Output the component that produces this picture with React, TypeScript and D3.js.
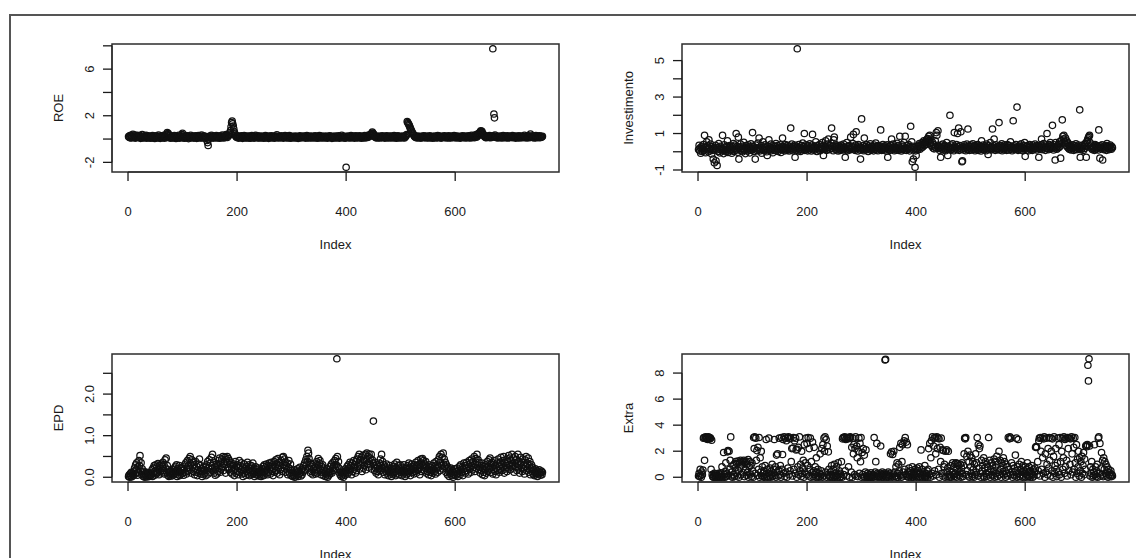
import React from 'react';
import * as d3 from 'd3';

// values, index order 1..760
const roe = [
  0.21,0.15,0.28,0.12,0.33,0.09,0.18,0.25,0.41,0.14,0.22,0.35,0.08,0.19,0.27,0.11,0.31,0.16,0.24,0.13,
  0.17,0.29,0.06,0.21,0.14,0.38,0.12,0.23,0.09,0.19,0.26,0.15,0.32,0.08,0.2,0.13,0.27,0.1,0.18,0.24,
  0.14,0.07,0.22,0.16,0.3,0.11,0.19,0.25,0.05,0.17,0.13,0.28,0.09,0.21,0.15,0.34,0.12,0.18,0.06,0.23,
  0.16,0.27,0.1,0.2,0.14,0.31,0.08,0.19,0.24,0.12,0.42,0.55,0.36,0.48,0.29,0.13,0.2,0.07,0.18,0.25,
  0.11,0.17,0.23,0.09,0.3,0.15,0.21,0.05,0.26,0.13,0.19,0.1,0.33,0.16,0.08,0.22,0.14,0.28,0.38,0.5,
  0.12,0.18,0.07,0.24,0.15,0.29,0.1,0.2,0.13,0.26,0.04,0.17,0.22,0.09,0.31,0.14,0.19,0.11,0.25,0.16,
  0.08,0.21,0.13,0.27,0.17,0.06,0.23,0.12,0.3,0.15,0.19,0.1,0.24,0.14,0.35,0.09,0.2,0.16,0.28,0.11,
  0.18,0.05,0.22,0.13,-0.12,-0.3,-0.55,0.02,0.15,0.25,0.1,0.19,0.33,0.14,0.21,0.08,0.26,0.17,0.12,0.23,
  0.15,0.3,0.09,0.2,0.13,0.24,0.18,0.07,0.28,0.16,0.11,0.22,0.34,0.14,0.19,0.1,0.25,0.17,0.29,0.38,
  0.21,0.14,0.3,0.26,0.42,0.35,0.55,0.72,1.05,1.42,1.55,1.3,1.12,0.85,0.6,0.45,0.31,0.22,0.16,0.27,
  0.12,0.19,0.08,0.24,0.15,0.21,0.11,0.28,0.17,0.06,0.23,0.13,0.3,0.18,0.1,0.2,0.14,0.26,0.09,0.22,
  0.16,0.12,0.25,0.07,0.19,0.14,0.29,0.11,0.21,0.17,0.08,0.24,0.13,0.32,0.15,0.2,0.1,0.27,0.18,0.12,
  0.23,0.09,0.18,0.14,0.26,0.11,0.2,0.16,0.07,0.22,0.13,0.3,0.17,0.1,0.24,0.15,0.19,0.06,0.25,0.13,
  0.2,0.15,0.28,0.1,0.17,0.23,0.12,0.19,0.08,0.26,0.14,0.21,0.36,0.11,0.18,0.24,0.09,0.16,0.22,0.13,
  0.27,0.12,0.19,0.15,0.08,0.23,0.17,0.3,0.11,0.2,0.14,0.25,0.1,0.18,0.13,0.29,0.16,0.07,0.21,0.15,
  0.11,0.24,0.18,0.13,0.2,0.09,0.26,0.15,0.12,0.22,0.17,0.06,0.19,0.14,0.28,0.1,0.21,0.16,0.13,0.23,
  0.18,0.11,0.25,0.14,0.2,0.08,0.17,0.29,0.12,0.22,0.15,0.1,0.19,0.26,0.13,0.21,0.09,0.16,0.24,0.12,
  0.2,0.15,0.27,0.1,0.18,0.13,0.23,0.07,0.19,0.16,0.3,0.11,0.21,0.14,0.25,0.09,0.17,0.22,0.12,0.19,
  0.14,0.26,0.1,0.2,0.16,0.08,0.23,0.13,0.18,0.28,0.11,0.21,0.15,0.06,0.24,0.17,0.12,0.2,0.09,0.25,
  0.16,0.13,0.22,0.1,0.19,0.27,0.14,0.08,0.21,0.17,0.12,0.33,0.15,0.2,0.11,0.24,0.18,0.07,0.22,-2.42,
  0.13,0.19,0.26,0.11,0.17,0.22,0.09,0.15,0.3,0.14,0.2,0.12,0.25,0.17,0.08,0.21,0.16,0.28,0.1,0.19,
  0.14,0.23,0.11,0.18,0.27,0.13,0.2,0.07,0.16,0.24,0.12,0.19,0.15,0.29,0.1,0.21,0.17,0.25,0.13,0.31,
  0.18,0.22,0.35,0.27,0.41,0.33,0.48,0.6,0.52,0.44,0.36,0.25,0.19,0.14,0.22,0.1,0.17,0.26,0.12,0.2,
  0.15,0.09,0.23,0.18,0.13,0.28,0.11,0.2,0.16,0.24,0.08,0.19,0.14,0.27,0.12,0.21,0.17,0.1,0.25,0.15,
  0.2,0.13,0.26,0.09,0.18,0.22,0.14,0.3,0.11,0.19,0.16,0.07,0.23,0.15,0.28,0.12,0.2,0.17,0.1,0.24,
  0.14,0.21,0.18,0.11,0.26,0.16,0.09,0.23,0.19,0.3,0.38,1.5,1.42,1.33,1.25,1.15,1.02,0.9,0.8,0.68,
  0.58,0.5,0.42,0.34,0.27,0.2,0.15,0.23,0.12,0.18,0.26,0.1,0.2,0.16,0.13,0.24,0.08,0.19,0.15,0.22,
  0.11,0.28,0.17,0.13,0.2,0.25,0.09,0.16,0.22,0.14,0.19,0.1,0.27,0.15,0.21,0.12,0.18,0.24,0.07,0.2,
  0.16,0.13,0.25,0.19,0.1,0.22,0.15,0.3,0.12,0.18,0.26,0.14,0.2,0.08,0.23,0.17,0.11,0.21,0.16,0.28,
  0.13,0.19,0.24,0.1,0.17,0.22,0.14,0.27,0.09,0.2,0.15,0.12,0.25,0.18,0.11,0.21,0.16,0.29,0.13,0.19,
  0.23,0.1,0.17,0.26,0.14,0.2,0.12,0.18,0.08,0.24,0.15,0.21,0.11,0.28,0.16,0.13,0.22,0.19,0.09,0.25,
  0.14,0.2,0.17,0.12,0.27,0.15,0.23,0.1,0.19,0.31,0.13,0.22,0.18,0.26,0.11,0.35,0.2,0.28,0.16,0.4,
  0.25,0.33,0.46,0.38,0.55,0.62,0.7,0.58,0.66,0.5,0.44,0.36,0.29,0.21,0.15,0.26,0.12,0.19,0.24,0.17,
  0.22,0.14,0.3,0.18,0.11,0.25,0.2,0.16,7.75,0.28,2.15,1.82,0.35,0.19,0.13,0.24,0.17,0.1,0.22,0.15,
  0.2,0.26,0.13,0.18,0.09,0.23,0.16,0.3,0.12,0.21,0.17,0.25,0.11,0.19,0.14,0.28,0.1,0.22,0.18,0.15,
  0.24,0.13,0.2,0.16,0.29,0.11,0.18,0.23,0.14,0.21,0.08,0.26,0.17,0.12,0.2,0.15,0.27,0.1,0.19,0.22,
  0.14,0.18,0.25,0.11,0.2,0.16,0.31,0.13,0.22,0.17,0.09,0.24,0.15,0.28,0.19,0.12,0.21,0.42,0.26,0.16,
  0.2,0.13,0.27,0.18,0.1,0.23,0.15,0.3,0.12,0.19,0.25,0.16,0.21,0.11,0.28,0.17,0.14,0.22,0.18,0.24,
];

const investimento = [
  0.12,0.35,0.05,0.22,-0.08,0.18,0.3,0.02,0.15,0.4,0.08,0.9,0.25,-0.05,0.2,0.55,0.1,0.32,0.0,0.65,
  0.18,0.05,0.42,0.12,-0.12,0.28,0.08,-0.4,0.2,-0.6,0.15,0.35,-0.5,0.1,-0.75,0.25,0.02,0.45,0.14,-0.06,
  0.3,0.1,0.2,0.05,0.9,0.16,-0.1,0.38,0.08,0.22,0.0,0.3,0.12,0.6,-0.04,0.2,0.1,0.34,0.06,0.25,
  0.14,-0.08,0.28,0.1,0.45,0.02,0.2,0.36,0.08,1.0,0.16,0.3,-0.02,0.8,-0.4,0.22,0.1,0.42,0.05,0.18,
  0.3,0.0,0.15,0.52,0.08,0.24,-0.1,0.34,0.12,0.2,0.04,0.38,0.1,0.26,-0.06,0.18,0.44,0.08,0.3,1.05,
  0.14,0.28,0.02,0.2,-0.4,0.36,0.1,0.22,0.06,0.48,0.15,0.75,0.04,0.25,0.12,0.34,-0.08,0.2,0.55,0.1,
  0.26,0.05,0.38,0.14,0.2,0.0,-0.2,0.3,0.1,0.65,0.16,0.24,0.04,0.42,0.12,0.2,-0.05,0.32,0.08,0.18,
  0.28,0.1,0.45,0.06,0.2,0.34,0.02,0.16,0.25,0.12,0.38,-0.04,0.22,0.1,0.75,0.3,0.14,0.2,0.05,0.4,
  0.18,0.26,0.08,0.35,0.12,0.22,0.04,0.3,0.16,1.3,0.1,0.42,0.2,0.06,0.28,0.14,0.36,-0.3,0.22,0.1,
  0.3,5.65,0.18,0.06,0.4,0.12,0.25,0.02,0.2,0.34,0.1,0.48,0.16,0.28,1.0,0.08,0.22,0.38,0.14,0.26,
  0.05,0.32,0.18,0.1,0.44,0.2,0.26,0.04,0.36,0.95,0.15,0.22,0.08,0.3,0.12,0.55,0.2,0.02,0.34,0.16,
  0.24,0.1,0.4,0.06,0.18,0.3,0.14,0.5,0.22,-0.2,0.35,0.12,0.28,0.6,0.2,0.08,0.42,0.16,0.7,0.26,
  0.12,0.34,0.2,0.48,1.3,0.18,0.3,0.06,0.65,0.8,0.22,0.14,0.38,0.1,0.28,0.2,0.04,0.32,0.16,0.24,
  0.08,0.36,0.14,0.22,0.3,0.1,0.42,0.18,0.26,-0.3,0.2,0.12,0.5,0.06,0.28,0.16,0.34,0.1,0.22,0.8,
  0.14,0.3,0.2,0.45,0.95,0.12,0.26,0.08,0.36,1.1,0.18,0.24,0.04,0.4,0.16,0.3,0.1,-0.4,0.2,1.8,
  0.22,0.12,0.34,0.06,0.75,0.18,0.28,0.1,0.4,0.15,0.24,0.02,0.32,0.16,0.2,0.44,0.08,0.26,0.12,0.3,
  0.18,0.05,0.36,0.14,0.22,0.48,0.1,0.28,0.2,0.06,0.34,0.16,0.24,0.12,1.2,0.3,0.08,0.2,0.4,0.14,
  0.26,0.1,0.32,0.18,0.04,0.22,0.38,-0.3,0.14,0.28,0.2,0.08,0.36,0.16,0.7,0.24,0.12,0.42,0.2,0.06,
  0.3,0.16,0.22,0.1,0.46,0.18,0.34,0.08,0.26,0.85,0.14,0.2,0.04,0.38,0.12,0.3,0.18,0.5,0.1,0.85,
  0.22,0.08,0.34,0.16,0.12,0.4,0.2,0.05,0.28,1.4,0.15,0.55,-0.55,0.3,-0.4,0.1,0.22,-0.85,0.05,-0.2,
  0.18,0.28,0.1,0.35,0.2,0.45,0.14,0.3,0.38,0.22,0.5,0.26,0.42,0.6,0.34,0.48,0.55,0.4,0.65,0.5,
  0.72,0.58,0.85,0.62,0.9,0.45,0.7,0.35,0.3,0.52,0.2,0.4,0.16,0.28,0.6,0.22,1.05,0.9,0.35,1.15,
  0.18,0.3,0.08,0.24,-0.3,0.36,0.14,0.2,0.42,0.1,0.28,0.16,0.34,0.06,0.22,0.5,0.12,-0.2,0.3,0.18,
  0.26,2.0,0.1,0.36,0.2,0.14,0.44,0.24,0.06,1.05,0.3,0.16,0.22,0.4,0.12,1.0,0.28,1.3,0.08,0.34,
  0.2,1.1,0.14,-0.55,-0.5,0.26,0.1,0.38,0.18,0.3,0.06,0.24,0.42,0.12,1.25,0.2,0.32,0.08,0.28,0.16,
  0.36,0.1,0.22,0.44,0.14,0.3,0.2,0.06,0.34,0.18,0.26,0.12,0.4,0.08,0.24,0.16,0.32,0.2,0.04,0.6,
  0.28,0.14,0.36,0.1,0.22,0.18,0.3,0.06,0.42,0.2,0.12,-0.15,0.34,0.24,0.16,0.5,0.1,0.28,0.2,1.25,
  0.14,0.32,0.7,0.22,0.08,0.38,0.18,0.26,0.12,0.3,0.2,1.6,0.1,0.34,0.24,0.16,0.44,0.06,0.28,0.2,
  0.12,0.36,0.18,0.24,0.3,0.08,0.4,0.16,0.22,0.1,0.34,0.2,0.55,0.14,0.28,0.06,0.26,1.7,0.18,0.32,
  0.12,0.24,0.4,0.16,2.45,0.2,0.08,0.3,0.14,0.36,0.22,0.1,0.44,0.18,0.26,0.06,0.32,0.2,0.5,-0.25,
  0.16,0.28,0.1,0.34,0.2,0.06,0.24,0.4,0.14,0.3,0.18,0.22,0.08,0.36,0.12,0.26,0.2,0.42,0.16,0.3,
  0.1,0.24,0.34,0.18,-0.3,0.28,0.14,0.2,0.38,0.7,0.12,0.3,0.22,0.45,0.16,0.26,0.08,0.36,0.2,1.0,
  0.18,0.3,0.12,0.4,0.24,0.5,0.16,0.34,0.22,1.45,0.28,0.1,0.38,0.2,-0.45,0.5,0.26,0.14,0.32,0.2,
  0.4,0.24,0.55,0.3,-0.35,0.62,0.45,1.75,0.85,0.7,0.9,0.58,0.48,0.75,0.36,0.6,0.28,0.5,0.2,0.42,
  0.14,0.34,0.22,0.1,0.3,0.18,0.38,0.26,0.08,0.2,0.32,0.14,0.44,0.24,0.12,0.3,0.2,0.36,0.16,2.3,
  -0.3,0.22,0.12,0.34,0.2,0.28,0.08,0.4,0.18,0.45,0.3,-0.3,0.55,0.62,0.7,0.78,0.85,0.9,0.5,0.3,
  0.2,0.36,0.12,0.26,0.18,0.3,0.08,0.4,0.22,0.14,0.34,0.2,0.28,0.1,1.2,0.24,-0.35,0.32,0.16,0.26,
  0.38,-0.45,0.2,0.12,0.3,0.22,0.16,0.34,0.08,0.45,0.26,0.18,0.3,0.12,0.24,0.36,0.2,0.14,0.28,0.22,
];

const epd = [
  0.02,0.05,0.0,0.08,0.03,0.12,0.01,0.06,0.1,0.04,0.15,0.22,0.08,0.3,0.18,0.35,0.05,0.25,0.12,0.4,
  0.28,0.52,0.15,0.35,0.06,0.2,0.1,0.02,0.14,0.05,0.0,0.09,0.03,0.12,0.07,0.01,0.05,0.1,0.02,0.08,
  0.04,0.12,0.06,0.18,0.02,0.22,0.1,0.28,0.05,0.15,0.3,0.08,0.25,0.12,0.33,0.18,0.06,0.28,0.14,0.2,
  0.32,0.1,0.26,0.36,0.16,0.3,0.08,0.42,0.22,0.46,0.12,0.28,0.05,0.18,0.02,0.1,0.06,0.14,0.03,0.08,
  0.12,0.04,0.18,0.08,0.22,0.14,0.26,0.1,0.3,0.02,0.2,0.06,0.15,0.28,0.04,0.12,0.08,0.22,0.16,0.1,
  0.25,0.05,0.18,0.3,0.12,0.35,0.08,0.22,0.4,0.15,0.28,0.45,0.2,0.5,0.32,0.1,0.42,0.24,0.36,0.14,
  0.3,0.06,0.22,0.38,0.12,0.26,0.04,0.18,0.32,0.1,0.44,0.16,0.28,0.08,0.2,0.02,0.14,0.24,0.06,0.18,
  0.1,0.26,0.04,0.3,0.16,0.38,0.08,0.22,0.42,0.12,0.34,0.2,0.48,0.28,0.55,0.15,0.36,0.1,0.25,0.05,
  0.18,0.32,0.08,0.28,0.14,0.4,0.22,0.46,0.12,0.34,0.2,0.44,0.26,0.5,0.16,0.38,0.3,0.48,0.1,0.42,
  0.36,0.5,0.24,0.45,0.18,0.4,0.3,0.12,0.35,0.22,0.08,0.28,0.16,0.32,0.04,0.2,0.38,0.1,0.26,0.14,
  0.3,0.06,0.22,0.4,0.12,0.28,0.18,0.35,0.08,0.24,0.02,0.16,0.32,0.1,0.2,0.05,0.26,0.14,0.36,0.08,
  0.18,0.3,0.04,0.22,0.12,0.28,0.06,0.16,0.34,0.1,0.2,0.02,0.14,0.25,0.08,0.18,0.05,0.12,0.22,0.03,
  0.1,0.06,0.16,0.02,0.12,0.2,0.08,0.26,0.04,0.3,0.14,0.22,0.1,0.32,0.18,0.06,0.28,0.12,0.34,0.2,
  0.08,0.24,0.36,0.14,0.3,0.04,0.2,0.38,0.12,0.26,0.42,0.16,0.32,0.1,0.45,0.22,0.36,0.06,0.28,0.18,
  0.4,0.14,0.48,0.3,0.5,0.22,0.44,0.36,0.12,0.28,0.18,0.34,0.06,0.24,0.4,0.1,0.2,0.32,0.04,0.16,
  0.08,0.02,0.12,0.05,0.18,0.0,0.1,0.04,0.15,0.06,0.2,0.02,0.14,0.08,0.24,0.1,0.03,0.18,0.06,0.22,
  0.12,0.28,0.16,0.35,0.2,0.42,0.3,0.5,0.38,0.65,0.58,0.45,0.22,0.34,0.1,0.26,0.14,0.3,0.06,0.2,
  0.32,0.12,0.24,0.08,0.18,0.38,0.1,0.28,0.45,0.16,0.34,0.4,0.2,0.06,0.26,0.12,0.3,0.04,0.16,0.22,
  0.1,0.02,0.14,0.06,0.2,0.0,0.12,0.04,0.18,0.08,0.26,0.14,0.32,0.1,0.22,0.36,0.16,0.28,0.4,0.2,
  0.45,0.3,2.85,0.5,0.25,0.38,0.12,0.2,0.06,0.15,0.02,0.1,0.04,0.12,0.0,0.08,0.14,0.05,0.2,0.1,
  0.16,0.26,0.08,0.3,0.12,0.22,0.36,0.18,0.28,0.06,0.34,0.14,0.24,0.4,0.2,0.3,0.1,0.38,0.16,0.44,
  0.26,0.5,0.34,0.55,0.2,0.42,0.3,0.48,0.14,0.36,0.52,0.22,0.4,0.28,0.55,0.18,0.44,0.58,0.32,0.5,
  0.24,0.56,0.38,0.46,0.3,0.55,0.2,0.42,0.34,1.35,0.28,0.16,0.36,0.22,0.1,0.3,0.14,0.26,0.06,0.2,
  0.34,0.16,0.44,0.28,0.55,0.22,0.38,0.12,0.3,0.2,0.06,0.24,0.14,0.32,0.1,0.18,0.04,0.22,0.12,0.28,
  0.08,0.16,0.02,0.12,0.2,0.06,0.26,0.1,0.32,0.14,0.04,0.22,0.36,0.18,0.1,0.28,0.06,0.16,0.3,0.12,
  0.2,0.04,0.14,0.24,0.08,0.3,0.16,0.02,0.12,0.22,0.06,0.18,0.28,0.1,0.34,0.14,0.24,0.04,0.2,0.32,
  0.12,0.26,0.18,0.08,0.3,0.14,0.22,0.36,0.1,0.28,0.16,0.4,0.2,0.32,0.06,0.24,0.44,0.14,0.34,0.45,
  0.28,0.4,0.16,0.32,0.22,0.38,0.1,0.26,0.14,0.2,0.06,0.3,0.18,0.12,0.24,0.04,0.16,0.28,0.1,0.2,
  0.34,0.14,0.26,0.08,0.38,0.2,0.3,0.12,0.42,0.24,0.5,0.16,0.36,0.55,0.28,0.48,0.2,0.58,0.32,0.44,
  0.26,0.36,0.12,0.3,0.2,0.06,0.24,0.14,0.02,0.18,0.08,0.22,0.1,0.04,0.16,0.0,0.12,0.06,0.2,0.1,
  0.04,0.14,0.08,0.22,0.02,0.16,0.1,0.26,0.06,0.3,0.18,0.12,0.24,0.04,0.2,0.34,0.14,0.28,0.1,0.22,
  0.36,0.16,0.3,0.08,0.26,0.4,0.2,0.34,0.12,0.44,0.28,0.18,0.38,0.24,0.5,0.14,0.32,0.45,0.22,0.55,
  0.3,0.42,0.18,0.36,0.24,0.1,0.28,0.16,0.34,0.06,0.2,0.12,0.26,0.04,0.18,0.3,0.1,0.22,0.38,0.14,
  0.26,0.42,0.2,0.46,0.32,0.12,0.36,0.24,0.08,0.3,0.18,0.4,0.14,0.28,0.06,0.22,0.34,0.16,0.44,0.26,
  0.12,0.36,0.2,0.48,0.3,0.16,0.4,0.24,0.5,0.1,0.34,0.2,0.42,0.28,0.14,0.38,0.22,0.52,0.3,0.46,
  0.18,0.4,0.28,0.55,0.34,0.22,0.46,0.12,0.36,0.5,0.26,0.42,0.16,0.32,0.55,0.2,0.38,0.1,0.3,0.48,
  0.24,0.36,0.14,0.44,0.2,0.3,0.08,0.42,0.26,0.5,0.16,0.34,0.22,0.46,0.12,0.28,0.38,0.06,0.2,0.3,
  0.14,0.24,0.08,0.18,0.04,0.12,0.2,0.06,0.16,0.1,0.02,0.14,0.08,0.18,0.12,0.05,0.1,0.15,0.06,0.12,
];

const extra = [
  0.1,0.3,0.05,0.6,0.15,0.0,0.4,0.2,0.55,3.0,3.05,1.3,3.0,3.1,2.95,3.05,3.0,2.9,3.1,3.0,
  3.05,2.95,3.0,0.6,2.85,0.2,0.05,0.0,0.15,0.3,0.0,0.1,0.02,0.25,0.0,0.12,0.05,0.3,0.0,0.18,
  0.05,0.35,0.0,0.8,0.1,0.02,1.9,0.2,0.0,0.45,1.1,0.05,0.3,1.95,2.05,0.15,2.0,0.6,1.3,3.1,
  0.1,0.4,0.0,0.9,0.2,1.0,0.05,0.7,1.2,0.3,1.05,0.1,1.25,0.5,0.0,1.15,0.8,1.3,0.2,1.1,
  0.95,1.2,0.35,1.3,0.05,1.15,0.6,1.25,0.15,1.0,0.4,1.35,0.0,0.8,1.2,0.25,0.9,0.05,1.1,0.5,
  0.0,3.05,2.2,3.1,0.3,3.0,1.3,2.05,0.15,2.3,0.6,3.05,0.0,1.5,0.4,2.0,0.1,0.8,0.05,0.35,
  0.5,0.0,0.9,0.2,2.9,0.05,0.6,0.0,0.3,3.0,0.1,0.7,0.0,0.45,0.2,1.0,0.05,0.35,0.6,2.9,
  0.15,0.8,0.0,1.7,0.4,1.8,0.1,0.55,3.0,0.2,0.9,0.0,3.05,0.6,1.75,2.9,0.3,3.1,0.05,3.0,
  0.4,2.8,0.0,3.05,0.7,3.1,0.2,2.95,0.5,3.0,1.2,2.2,0.1,2.25,3.05,0.6,2.8,0.3,3.0,2.1,
  0.0,2.15,0.8,2.3,0.2,3.1,0.5,1.0,0.05,2.0,0.3,0.7,1.3,0.0,2.5,0.4,1.1,3.0,0.2,2.6,
  0.9,3.05,0.1,2.2,0.6,3.0,0.0,1.2,0.35,2.7,0.05,0.5,2.3,0.2,0.8,0.0,1.5,0.4,0.1,0.6,
  0.0,0.3,0.05,1.8,0.2,0.5,2.2,0.0,2.5,0.1,3.0,2.0,3.1,0.4,2.9,0.0,2.4,0.2,1.95,0.6,
  0.1,0.0,0.4,0.05,0.9,0.2,0.0,0.6,0.1,1.0,0.0,0.3,0.05,0.8,0.15,0.0,1.1,0.2,0.5,0.0,
  0.3,0.05,1.2,0.0,2.95,3.05,0.2,3.0,3.1,0.5,2.9,3.0,0.1,3.05,2.95,0.8,3.0,0.0,3.1,3.05,
  0.4,2.3,0.0,3.0,1.8,2.5,0.2,2.2,3.1,0.1,2.4,1.5,0.05,2.0,3.0,0.3,2.6,1.2,3.05,0.0,
  1.9,0.2,2.2,0.05,1.7,0.0,0.4,2.1,0.1,0.0,0.3,0.05,0.0,0.2,0.1,0.0,0.35,0.05,0.0,0.15,
  0.2,0.0,3.05,0.1,0.4,1.2,0.05,2.6,0.3,0.0,0.2,0.1,0.05,0.3,2.4,0.0,0.15,0.4,0.05,0.2,
  0.0,0.3,9.0,9.05,0.1,0.0,0.2,0.05,0.4,0.0,0.15,0.3,1.8,0.1,1.95,0.0,1.75,0.25,2.0,0.05,
  0.4,0.1,0.8,0.0,1.1,0.3,0.0,1.0,0.5,2.3,0.15,2.6,0.0,1.2,2.5,0.4,0.1,2.8,0.6,3.05,
  0.2,2.7,0.05,2.5,0.4,0.0,0.7,0.2,0.1,0.5,0.0,0.3,0.8,0.05,0.0,0.4,0.2,0.6,0.1,0.3,
  0.0,0.7,0.2,0.5,0.05,0.8,0.0,0.3,2.1,0.1,0.6,0.0,0.2,0.4,0.05,0.9,0.0,0.3,0.1,0.5,
  0.0,0.6,2.2,0.2,2.6,0.0,1.5,2.8,0.3,3.1,0.1,2.4,3.0,0.5,3.05,1.8,0.2,3.1,2.2,3.0,
  0.6,2.95,0.0,2.3,1.2,3.0,0.3,2.1,0.1,2.05,0.8,1.0,0.0,2.0,0.4,2.1,0.05,0.7,2.0,0.2,
  0.0,0.5,0.1,0.9,0.0,0.4,1.1,0.2,0.8,0.05,1.0,0.3,1.1,0.0,0.6,1.05,0.2,0.9,0.1,0.4,
  1.0,0.0,0.7,1.1,0.3,0.05,0.9,1.8,3.0,2.95,3.05,0.2,1.6,0.5,2.0,0.1,1.2,0.0,1.7,0.8,
  0.3,1.5,0.05,1.2,0.6,0.0,1.0,0.2,1.8,0.4,1.1,3.05,0.1,2.5,0.7,2.2,2.4,0.3,0.0,1.3,
  0.5,0.9,0.1,1.5,0.0,0.7,1.2,0.3,0.05,1.0,0.8,0.2,3.05,0.4,1.3,0.0,0.6,1.1,0.2,0.9,
  0.1,0.5,1.4,0.0,0.8,1.2,0.3,1.6,0.05,1.0,0.4,2.0,0.2,1.3,0.6,0.0,1.1,0.3,0.9,1.5,
  0.2,1.2,0.5,0.0,1.0,0.3,0.8,0.1,3.05,0.6,2.95,3.1,0.2,3.0,1.1,0.4,0.0,0.9,0.2,0.7,
  0.1,1.7,0.5,3.0,0.0,0.8,2.9,0.3,1.0,0.05,0.6,0.2,1.2,0.4,0.0,0.9,0.1,0.5,0.3,0.8,
  0.0,0.6,0.2,1.1,0.05,0.4,0.8,0.1,0.0,0.5,0.3,0.9,0.2,0.0,0.6,0.1,0.4,0.7,2.3,2.35,
  2.3,0.2,1.2,0.5,2.8,3.0,0.1,3.05,2.0,0.6,3.0,1.5,0.3,2.95,3.1,0.0,1.8,0.4,3.0,1.0,
  0.2,2.2,0.7,3.05,1.3,0.1,3.0,2.0,0.5,2.95,0.0,1.6,3.1,0.3,0.9,2.2,0.6,0.05,1.1,3.0,
  0.4,2.5,0.2,3.05,1.2,0.0,2.0,3.0,0.6,1.5,3.1,0.3,2.9,0.8,3.0,1.3,0.1,3.05,2.2,0.5,
  3.0,1.0,2.95,0.2,3.1,1.8,0.4,3.0,2.3,0.6,3.05,1.1,0.0,2.5,0.3,1.4,0.8,2.0,0.1,1.5,
  0.5,1.2,0.0,1.6,0.3,0.9,1.9,0.2,1.4,0.6,2.4,2.45,2.35,2.5,8.6,7.4,9.1,2.4,0.1,0.8,
  0.3,1.2,0.0,0.6,0.1,0.4,2.5,0.2,0.8,0.05,0.5,1.0,0.0,3.0,3.1,0.3,2.6,0.1,0.7,1.9,
  0.2,1.3,0.05,1.5,0.6,1.2,0.3,1.0,0.1,0.8,0.4,0.0,0.6,0.2,0.35,0.1,0.5,0.05,0.2,0.1,
];

const indexTicks = [0, 200, 400, 600];
const roeTicks = [-2, 0, 2, 4, 6, 8];
const roeLabels = [-2, 2, 6];
const invTicks = [-1, 0, 1, 2, 3, 4, 5];
const invLabels = [-1, 1, 3, 5];
const epdTicks = [0, 0.5, 1, 1.5, 2, 2.5, 3];
const epdLabels = [0, 1, 2];
const extraTicks = [0, 2, 4, 6, 8];
const extraLabels = [0, 2, 4, 6, 8];

const W = 447;
const H = 128;
const FONT = '"Liberation Sans", Arial, sans-serif';
const INK = '#1a1a1a';

// R style 4% padding on each side
function rRange(lo, hi) {
  const pad = (hi - lo) * 0.04;
  return [lo - pad, hi + pad];
}

function Panel({ values, name, ticks, labels, fmt, left, top }) {
  const x = d3.scaleLinear().domain(rRange(1, values.length)).range([0, W]);
  const [lo, hi] = d3.extent(values);
  const y = d3.scaleLinear().domain(rRange(lo, hi)).range([H, 0]);
  const [y0, y1] = y.domain();
  const yt = ticks.filter(t => t >= y0 && t <= y1);
  const tick = 9;

  return (
    <g transform={`translate(${left},${top})`}>
      <rect x={0} y={0} width={W} height={H} fill="none" stroke="#2c2c2c" strokeWidth={1.5} />
      {values.map((v, i) => (
        <circle key={i} cx={x(i + 1)} cy={y(v)} r={3.2} fill="none" stroke="#111" strokeWidth={1.25} />
      ))}
      {/* x axis */}
      <line x1={x(indexTicks[0])} x2={x(indexTicks[indexTicks.length - 1])} y1={H} y2={H} stroke={INK} />
      {indexTicks.map(t => (
        <g key={t}>
          <line x1={x(t)} x2={x(t)} y1={H} y2={H + tick} stroke={INK} strokeWidth={1.3} />
          <text x={x(t)} y={H + 39} textAnchor="middle" dominantBaseline="central"
            fontSize={13} fill={INK} fontFamily={FONT}>{t}</text>
        </g>
      ))}
      <text x={W / 2} y={H + 72} textAnchor="middle" dominantBaseline="central"
        fontSize={13} fill={INK} fontFamily={FONT}>Index</text>
      {/* y axis */}
      <line x1={0} x2={0} y1={y(yt[0])} y2={y(yt[yt.length - 1])} stroke={INK} />
      {yt.map(t => (
        <line key={t} x1={-tick} x2={0} y1={y(t)} y2={y(t)} stroke={INK} strokeWidth={1.3} />
      ))}
      {labels.map(t => (
        <text key={t} transform={`translate(${-23},${y(t)}) rotate(-90)`} textAnchor="middle"
          dominantBaseline="central" fontSize={13} fill={INK} fontFamily={FONT}>{fmt(t)}</text>
      ))}
      <text transform={`translate(${-54},${H / 2}) rotate(-90)`} textAnchor="middle"
        dominantBaseline="central" fontSize={13} fill={INK} fontFamily={FONT}>{name}</text>
    </g>
  );
}

export default function App() {
  const plain = d => String(d);
  const oneDec = d => d.toFixed(1);
  return (
    <svg width={1136} height={558} style={{ position: 'absolute', left: 0, top: 0, background: '#fff' }}>
      <rect x={0} y={0} width={1136} height={558} fill="#fff" />
      <path d="M10,558 V15 H1136" fill="none" stroke="#555" strokeWidth={2} />
      <Panel values={roe} name="ROE" ticks={roeTicks} labels={roeLabels} fmt={plain} left={112} top={44} />
      <Panel values={investimento} name="Investimento" ticks={invTicks} labels={invLabels} fmt={plain} left={682} top={44} />
      <Panel values={epd} name="EPD" ticks={epdTicks} labels={epdLabels} fmt={oneDec} left={112} top={354} />
      <Panel values={extra} name="Extra" ticks={extraTicks} labels={extraLabels} fmt={plain} left={682} top={354} />
    </svg>
  );
}
